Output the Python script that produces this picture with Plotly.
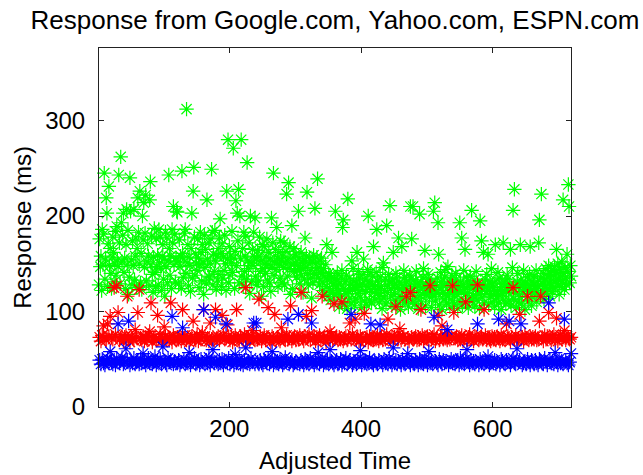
import plotly.graph_objects as go

# ---------------- data ----------------
title_text = "Response from Google.com, Yahoo.com, ESPN.com"
x_title = "Adjusted Time"
y_title = "Response (ms)"

x_ticks = [200, 400, 600]
y_ticks = [0, 100, 200, 300]

# ESPN.com (green), one sample per time step 1..720
green_espn_ms = [
    152,128,176,147,158,122,186,149,181,245,134,155,219,203,126,171,231,148,166,140,124,157,178,162,131,150,184,138,189,154,
    147,243,172,129,262,193,152,180,203,141,156,124,170,207,149,185,118,136,240,205,154,128,174,148,207,133,158,177,125,166,
    219,183,150,226,130,161,123,200,175,214,146,182,222,132,152,171,158,127,217,236,149,179,139,120,157,187,141,126,176,147,
    159,128,186,151,178,145,122,158,170,134,155,116,183,147,177,130,153,243,166,138,158,124,186,172,210,149,181,131,156,205,
    204,152,129,175,147,158,124,247,161,136,155,182,186,140,312,151,170,127,157,148,121,166,203,135,226,251,178,138,160,150,
    143,176,156,125,149,183,162,132,170,152,118,180,146,165,129,217,155,137,172,136,150,176,249,183,128,160,142,185,153,123,
    158,133,166,139,177,197,161,126,171,135,157,143,180,150,122,226,155,280,130,168,138,159,151,184,141,271,156,124,163,216,
    148,203,174,228,130,200,155,280,137,166,127,183,142,158,179,134,256,153,145,172,119,200,151,131,165,148,183,157,198,137,
    155,128,164,132,158,178,142,153,116,170,145,126,168,150,140,157,176,133,149,162,130,155,121,198,146,172,245,138,152,165,
    144,188,156,126,162,149,135,174,153,130,158,146,172,128,151,163,223,137,155,235,145,168,118,149,190,124,157,166,142,151,
    160,136,148,143,205,155,129,145,162,138,151,120,153,134,177,146,158,225,140,128,150,156,135,143,114,152,130,159,139,208,
    150,139,157,239,135,146,128,153,141,156,131,122,145,137,118,149,126,170,133,116,140,124,138,112,136,162,120,129,118,134,
    205,118,127,140,133,122,105,129,116,137,143,188,196,124,108,131,119,138,103,218,121,135,114,128,109,153,123,145,132,106,
    125,113,130,162,119,142,127,135,115,122,104,129,139,155,111,133,121,107,126,144,200,131,112,141,123,109,128,137,168,120,
    113,127,141,186,132,119,124,110,136,117,126,103,146,151,114,122,134,108,190,120,127,139,131,211,116,124,106,133,162,118,
    128,112,140,135,107,125,177,116,130,102,123,168,114,127,143,136,109,124,131,113,120,105,128,138,210,134,176,111,210,122,
    126,108,133,142,114,129,103,122,202,117,131,110,125,136,145,120,164,106,128,118,124,139,134,115,121,130,104,127,116,205,
    123,214,111,128,119,135,193,160,107,125,141,131,102,120,127,113,136,118,144,109,129,147,116,122,105,133,119,138,111,130,
    121,108,127,140,134,118,103,125,112,193,131,120,177,107,128,143,123,165,110,136,119,126,104,132,114,137,129,206,111,125,
    117,133,106,124,142,112,130,118,127,103,195,121,174,115,128,162,109,125,134,119,139,126,160,107,122,131,116,145,110,129,
    118,125,105,170,132,114,121,141,109,135,117,123,102,129,119,172,112,126,131,108,122,138,134,120,111,128,165,106,124,146,
    206,113,228,127,119,104,131,140,110,126,116,170,133,108,121,128,143,125,102,130,118,123,136,111,127,139,168,121,106,132,
    115,128,137,120,124,143,110,131,126,172,196,118,135,223,129,122,140,113,133,127,145,119,136,124,148,130,116,139,127,143,
    121,138,132,147,125,141,165,129,150,134,118,144,137,126,152,131,217,140,123,146,135,128,160,142,233,210,130,148,137,144,
]

# Yahoo.com (red), sampled every 2nd time step 1,3,...,719
red_yahoo_ms = [
    71,73,69,75,85,72,70,87,74,95,73,71,125,76,127,99,70,72,74,69,73,75,116,71,68,74,72,70,81,73,
    99,123,72,70,74,69,73,71,75,79,109,68,72,74,70,96,71,76,69,72,84,74,70,73,71,109,68,75,72,70,
    73,71,74,69,102,72,75,70,73,68,71,74,90,72,70,76,69,73,71,78,102,74,70,72,69,88,71,73,70,102,
    72,74,70,73,96,75,71,72,86,74,70,73,68,72,75,102,71,69,74,72,70,76,125,71,73,69,74,80,72,70,
    73,71,113,74,69,72,75,70,73,104,71,68,74,72,97,70,73,71,69,83,74,72,70,75,71,73,106,69,72,74,
    70,73,71,75,120,72,69,74,95,73,76,70,101,72,74,69,73,71,75,70,116,72,74,68,73,71,79,75,70,108,
    72,74,70,73,71,110,69,72,74,70,73,88,71,76,72,92,70,73,69,74,71,72,98,70,73,68,74,71,72,70,
    73,71,75,69,72,74,70,73,71,76,92,72,70,74,69,73,105,75,72,82,70,73,74,71,116,72,69,120,73,71,
    72,74,70,73,71,102,75,69,73,72,74,70,127,71,73,76,69,72,96,70,73,85,71,75,72,70,73,71,74,127,
    99,72,74,70,73,71,75,69,72,110,70,73,76,71,72,69,74,73,128,70,72,74,71,102,75,70,73,71,69,74,
    71,73,70,74,72,69,75,71,73,70,87,74,72,69,73,125,71,75,70,72,97,71,73,69,76,72,116,70,74,71,
    73,71,74,70,72,90,116,73,69,75,71,74,99,72,70,73,76,71,93,69,72,75,71,73,80,70,74,72,71,73,
]

# Google.com (blue), sampled every 2nd time step 1,3,...,719
blue_google_ms = [
    47,49,45,50,46,44,48,51,46,58,47,45,49,44,50,87,46,48,52,45,47,61,49,90,44,48,46,51,45,47,
    48,45,50,46,56,47,44,49,51,46,48,45,47,53,44,49,46,50,45,63,48,46,44,51,47,49,95,45,48,46,
    46,49,44,47,83,50,45,48,46,57,44,49,47,51,45,46,48,44,50,47,102,45,49,46,52,44,48,60,46,94,
    47,45,49,46,50,44,48,87,46,51,45,47,49,44,55,46,48,50,45,47,44,49,62,46,48,45,51,47,88,45,
    88,47,45,49,46,44,50,48,46,51,45,47,58,44,49,46,48,45,50,47,44,46,52,48,92,45,47,49,44,46,
    48,46,97,45,49,47,44,50,46,48,45,51,88,47,44,49,46,57,45,48,50,44,47,46,49,45,60,48,46,44,
    47,49,45,46,50,44,48,46,51,45,47,49,97,44,46,48,45,50,47,59,44,49,46,48,45,47,51,87,46,44,
    48,46,45,49,86,47,44,50,46,48,45,51,47,44,62,46,49,45,48,47,44,50,46,45,49,56,47,44,48,46,
    45,49,47,44,50,46,48,45,51,47,44,58,46,49,45,94,48,46,44,50,47,45,49,46,48,81,44,47,50,46,
    48,45,47,49,44,51,46,48,45,50,60,47,44,49,46,48,45,47,87,44,50,46,48,45,49,47,53,44,46,48,
    46,49,45,47,92,44,50,48,46,45,49,47,90,44,48,51,46,45,61,47,49,87,44,46,48,45,50,47,44,49,
    47,45,49,46,44,50,48,46,45,51,47,44,109,49,46,48,45,57,47,44,50,46,48,45,92,49,46,44,47,56,
]

time_green = list(range(1, 721))[:len(green_espn_ms)]
time_half = list(range(1, 720, 2))
time_red = time_half[:len(red_yahoo_ms)]
time_blue = time_half[:len(blue_google_ms)]

series = [
    ("ESPN.com", time_green, green_espn_ms, "#00FF00"),
    ("Yahoo.com", time_red, red_yahoo_ms, "#FF0000"),
    ("Google.com", time_blue, blue_google_ms, "#0000FF"),
]

# ---------------- figure ----------------
FONT = "Liberation Sans, Arial, Helvetica, sans-serif"
fig = go.Figure()
for name, xs, ys, col in series:
    fig.add_trace(go.Scatter(
        x=xs, y=ys, mode="markers", name=name, cliponaxis=False,
        marker=dict(symbol="asterisk-open", size=12, color=col,
                    line=dict(width=1.2, color=col)),
    ))

axis_common = dict(
    showgrid=False, zeroline=False, showline=True, linecolor="#222222",
    linewidth=1, mirror="ticks", ticks="inside", ticklen=5,
    tickcolor="#222222", tickfont=dict(family=FONT, size=24, color="black"),
)

fig.update_layout(
    width=643, height=475,
    margin=dict(l=99, r=72, t=48, b=68, autoexpand=False),
    paper_bgcolor="white", plot_bgcolor="white",
    showlegend=False,
    font=dict(family=FONT, size=24, color="black"),
    title=dict(text=title_text, x=0.5, xref="paper", xanchor="center",
               y=1 - 20 / 475, yref="container", yanchor="middle",
               font=dict(family=FONT, size=26, color="black")),
    xaxis=dict(range=[2, 719], tickvals=x_ticks, ticklabelstandoff=0,
               title=dict(text=x_title, standoff=11,
                          font=dict(family=FONT, size=24, color="black")),
               **axis_common),
    yaxis=dict(range=[0, 376], tickvals=y_ticks, ticklabelstandoff=8,
               title=dict(text=y_title, standoff=6,
                          font=dict(family=FONT, size=24, color="black")),
               **axis_common),
)

fig.write_html("out.html")
